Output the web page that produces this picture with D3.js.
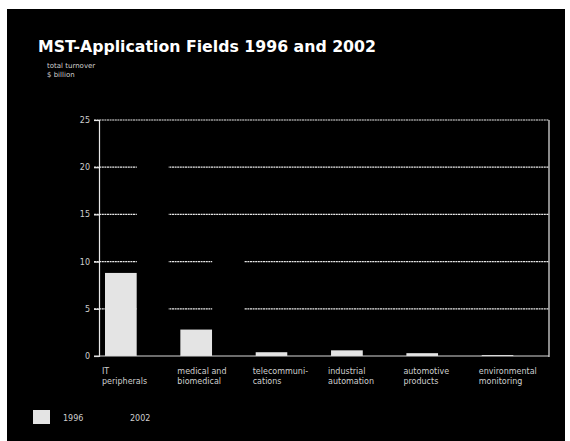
<!DOCTYPE html>
<html>
<head>
<meta charset="utf-8">
<script src="https://cdn.jsdelivr.net/npm/d3@7/dist/d3.min.js"></script>
<style>
  html, body { margin: 0; padding: 0; background: #fff; }
  svg { display: block; }
</style>
</head>
<body>
<script>
// Market size of microsystem technology (MST) by application field
const categories = [
  ["IT", "peripherals"],
  ["medical and", "biomedical"],
  ["telecommuni-", "cations"],
  ["industrial", "automation"],
  ["automotive", "products"],
  ["environmental", "monitoring"]
];
const series = ["1996", "2002"];
const values1996 = [8.8, 2.8, 0.4, 0.6, 0.3, 0.1];
const values2002 = [22.0, 11.0, 2.5, 1.8, 1.2, 0.4];
const yTicks = [0, 5, 10, 15, 20, 25];

const W = 570, H = 441;
const svg = d3.select("body").append("svg").attr("width", W).attr("height", H);

// black panel inside a thin white border
svg.append("rect").attr("x", 0).attr("y", 0).attr("width", W).attr("height", H).attr("fill", "#fff");
svg.append("rect").attr("x", 7).attr("y", 9).attr("width", 558).attr("height", H - 9).attr("fill", "#000");

const font = "'DejaVu Sans', sans-serif";
const textCol = "#cfcfcf";

svg.append("text")
  .attr("x", 38).attr("y", 52)
  .attr("fill", "#fff")
  .attr("font-family", font).attr("font-weight", "bold").attr("font-size", 16)
  .attr("textLength", 338).attr("lengthAdjust", "spacingAndGlyphs")
  .text("MST-Application Fields 1996 and 2002");

svg.append("text").attr("x", 47).attr("y", 68)
  .attr("fill", textCol).attr("font-family", font).attr("font-size", 7)
  .text("total turnover");
svg.append("text").attr("x", 47).attr("y", 77)
  .attr("fill", textCol).attr("font-family", font).attr("font-size", 7)
  .text("$ billion");

const plotLeft = 99, plotRight = 549, plotTop = 120, plotBottom = 356;
const groupStep = 73.4;

const y = d3.scaleLinear().domain([0, 25]).range([plotBottom, plotTop]);
const x0 = d3.scaleBand().domain(d3.range(categories.length))
  .range([plotLeft + 6, plotLeft + 6 + groupStep * categories.length]).paddingInner(0.155).paddingOuter(0).align(0);
const x1 = d3.scaleBand().domain(series).range([0, x0.bandwidth()]);

// horizontal grid lines
const grid = svg.append("g");
grid.selectAll("line").data(yTicks.filter(d => d > 0)).join("line")
  .attr("x1", plotLeft - 5).attr("x2", plotRight)
  .attr("y1", d => y(d)).attr("y2", d => y(d))
  .attr("stroke", "#e8e8e8").attr("stroke-width", 1.2).attr("stroke-dasharray", "2,0.6");

// right frame edge
svg.append("line").attr("x1", plotRight).attr("x2", plotRight).attr("y1", plotTop).attr("y2", plotBottom + 1)
  .attr("stroke", "#e8e8e8").attr("stroke-width", 1.2);

// bars
const groups = svg.append("g").selectAll("g").data(categories).join("g")
  .attr("transform", (d, i) => `translate(${x0(i)},0)`);

groups.append("rect")
  .attr("x", x1("1996")).attr("width", x1.bandwidth())
  .attr("y", (d, i) => y(values1996[i]))
  .attr("height", (d, i) => plotBottom - y(values1996[i]))
  .attr("fill", "#e4e4e4");

groups.append("rect")
  .attr("x", x1("2002")).attr("width", x1.bandwidth())
  .attr("y", (d, i) => y(values2002[i]))
  .attr("height", (d, i) => plotBottom - y(values2002[i]))
  .attr("fill", "#000");

// y axis
const yAxis = d3.axisLeft(y).tickValues(yTicks).tickSize(5).tickPadding(4);
const ya = svg.append("g").attr("transform", `translate(${plotLeft},0)`).call(yAxis);
ya.select(".domain").attr("stroke", "#e8e8e8").attr("stroke-width", 1.2);
ya.selectAll(".tick line").attr("stroke", "#e8e8e8").attr("stroke-width", 1.2);
ya.selectAll(".tick text").attr("fill", textCol).attr("font-family", font).attr("font-size", 8);

// baseline
svg.append("line").attr("x1", plotLeft - 5).attr("x2", plotRight).attr("y1", y(0)).attr("y2", y(0))
  .attr("stroke", "#d8d8d8").attr("stroke-width", 1.2);

// category labels
const labels = svg.append("g").selectAll("text").data(categories).join("text")
  .attr("x", (d, i) => x0(i) - 3)
  .attr("y", 374)
  .attr("fill", textCol).attr("font-family", font).attr("font-size", 8);
labels.each(function(d) {
  const t = d3.select(this);
  d.forEach((line, k) => {
    t.append("tspan").attr("x", t.attr("x")).attr("dy", k === 0 ? 0 : 10).text(line);
  });
});

// legend
const legend = svg.append("g");
legend.append("rect").attr("x", 33).attr("y", 410).attr("width", 17).attr("height", 14).attr("fill", "#e4e4e4");
legend.append("text").attr("x", 63).attr("y", 421).attr("fill", textCol)
  .attr("font-family", font).attr("font-size", 8).text(series[0]);
legend.append("rect").attr("x", 112).attr("y", 410).attr("width", 17).attr("height", 14).attr("fill", "#000");
legend.append("text").attr("x", 130).attr("y", 421).attr("fill", textCol)
  .attr("font-family", font).attr("font-size", 8).text(series[1]);
</script>
</body>
</html>
